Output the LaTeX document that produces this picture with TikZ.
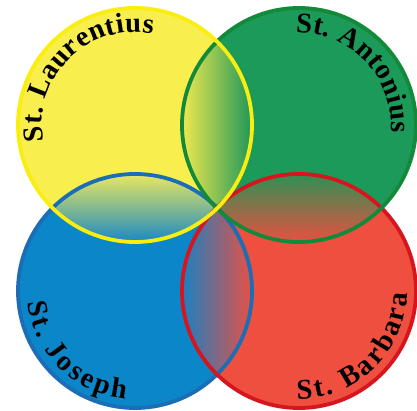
\documentclass[tikz,border=0pt]{standalone}
\usepackage{fontspec}
\setmainfont{Liberation Serif}
\usetikzlibrary{decorations.text}
\definecolor{yfill}{HTML}{F8EE4E}
\definecolor{ystroke}{HTML}{F9EE10}
\definecolor{gfill}{HTML}{1B9A5A}
\definecolor{gstroke}{HTML}{13893A}
\definecolor{bfill}{HTML}{0B86C8}
\definecolor{bstroke}{HTML}{1B6DB6}
\definecolor{rfill}{HTML}{EF4F3E}
\definecolor{rstroke}{HTML}{D6151F}
\definecolor{lensYl}{HTML}{F0E94E}
\definecolor{lensGr}{HTML}{1E975A}
\definecolor{lensYt}{HTML}{E9E760}
\definecolor{lensBb}{HTML}{1A89C3}
\definecolor{lensGt}{HTML}{2E9153}
\definecolor{lensRb}{HTML}{E8503F}
\definecolor{lensBl}{HTML}{1A80C2}
\definecolor{lensRr}{HTML}{E85045}
\newcommand\saintfont{\bfseries\fontsize{28.5}{28.5}\selectfont}
\begin{document}
\begin{tikzpicture}[x=1pt,y=1pt,
  ring/.style={line width=3.8pt},
  saint/.style={decorate, decoration={text along path, text align=fit to path, text={|\saintfont|#1}}}]
\useasboundingbox[fill=white] (0,0) rectangle (417,411);
\coordinate (Y) at (135,286);
\coordinate (G) at (299,286);
\coordinate (B) at (135,120);
\coordinate (R) at (299,120);
% fills
\fill[yfill] (Y) circle[radius=117];
\fill[gfill] (G) circle[radius=117];
\fill[bfill] (B) circle[radius=117];
\fill[rfill] (R) circle[radius=117];
% lenses
\begin{scope}
  \clip (Y) circle[radius=117];
  \clip (G) circle[radius=117];
  \shade[left color=lensYl, right color=lensGr] (182,200) rectangle (252,372);
\end{scope}
\begin{scope}
  \clip (Y) circle[radius=117];
  \clip (B) circle[radius=117];
  \shade[top color=lensYt, bottom color=lensBb] (50,169) rectangle (220,237);
\end{scope}
\begin{scope}
  \clip (G) circle[radius=117];
  \clip (R) circle[radius=117];
  \shade[top color=lensGt, bottom color=lensRb] (214,169) rectangle (384,237);
\end{scope}
\begin{scope}
  \clip (B) circle[radius=117];
  \clip (R) circle[radius=117];
  \shade[left color=lensBl, right color=lensRr] (182,34) rectangle (252,206);
\end{scope}
% strokes
\draw[ring, bstroke] (B) circle[radius=117];
\draw[ring, rstroke] (R) circle[radius=117];
\draw[ring, gstroke] (G) circle[radius=117];
\draw[ring, ystroke] (Y) circle[radius=117];
% labels
\path[saint={St. Laurentius}] ([shift={(190:93)}]Y) arc[start angle=190, end angle=79, radius=93];
\path[saint={St. Antonius}] ([shift={(92:92)}]G) arc[start angle=92, end angle=-5, radius=92];
\path[saint={St. Joseph}] ([shift={(186:108)}]B) arc[start angle=186, end angle=265, radius=108];
\path[saint={St. Barbara}] ([shift={(269:108)}]R) arc[start angle=269, end angle=359, radius=108];
\end{tikzpicture}
\end{document}
